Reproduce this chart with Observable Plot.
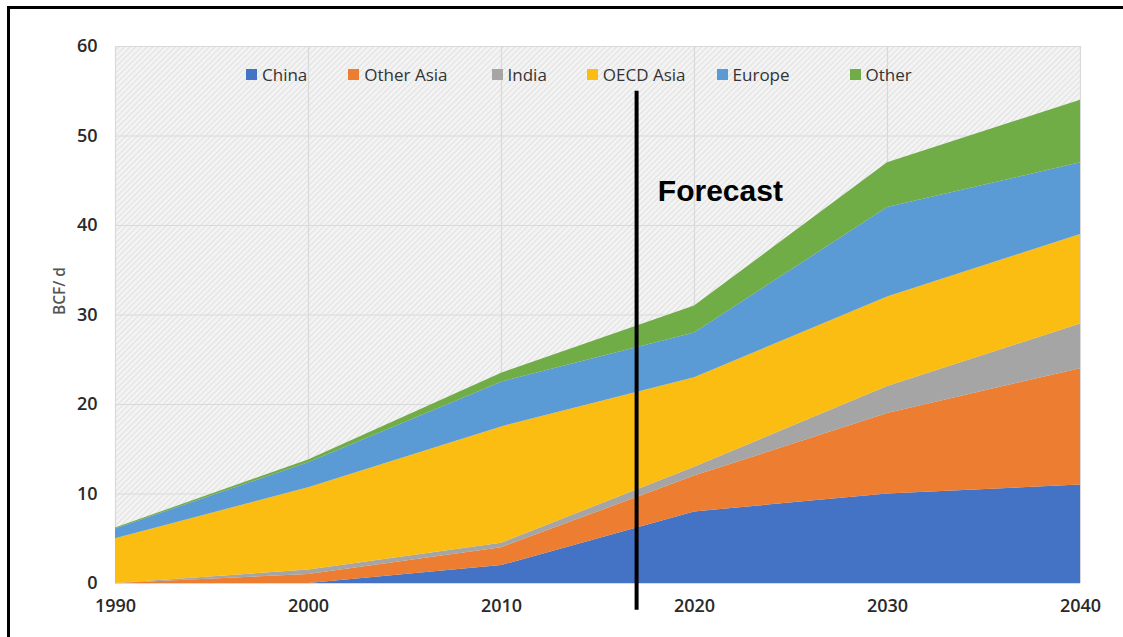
<!DOCTYPE html>
<html>
<head>
<meta charset="utf-8">
<script src="https://cdn.jsdelivr.net/npm/d3@7"></script>
<script src="https://cdn.jsdelivr.net/npm/@observablehq/plot@0.6"></script>
<style>
  html, body { margin: 0; padding: 0; background: #fff; }
  #wrap { position: relative; width: 1123px; height: 637px; overflow: hidden; font-family: "Open Sans", sans-serif; }
  #frame { position: absolute; left: 7px; top: 6px; width: 1200px; height: 700px; border-left: 3px solid #000; border-top: 3px solid #000; pointer-events: none; }
  #legend { position: absolute; top: 63px; left: 246px; display: flex; gap: 0; font-size: 17px; color: #333; }
  #legend .item { display: flex; align-items: center; white-space: nowrap; }
  #legend .sw { width: 11px; height: 11px; margin-right: 5px; }
  #chart { position: absolute; left: 0; top: 0; }
</style>
</head>
<body>
<div id="wrap">
  <div id="chart"></div>
  <div id="legend"></div>
  <div id="frame"></div>
</div>
<script>
const years = [1990, 2000, 2010, 2020, 2030, 2040];
const seriesNames = ["China", "Other Asia", "India", "OECD Asia", "Europe", "Other"];
const seriesColors = ["#4472c4", "#ed7d31", "#a5a5a5", "#fcbd12", "#5b9bd5", "#70ad47"];
const china     = [0, 0, 2, 8, 10, 11];
const otherAsia = [0, 1, 2, 4, 9, 13];
const india     = [0, 0.5, 0.5, 1, 3, 5];
const oecdAsia  = [5, 9.2, 13, 10, 10, 10];
const europe    = [1.1, 2.8, 5, 5, 10, 8];
const other     = [0.1, 0.3, 1, 3, 5, 7];
const yTicks = [0, 10, 20, 30, 40, 50, 60];
const xTicks = [1990, 2000, 2010, 2020, 2030, 2040];
const forecastYear = 2017;
const forecastSpan = [-3, 55];
const forecastLabel = { year: 2018.1, value: 43.8, text: "Forecast" };

const values = [china, otherAsia, india, oecdAsia, europe, other];
const data = [];
seriesNames.forEach((name, i) => {
  years.forEach((yr, j) => data.push({ year: yr, region: name, value: values[i][j] }));
});

const plot = Plot.plot({
  width: 1123,
  height: 637,
  marginLeft: 115,
  marginRight: 43,
  marginTop: 46,
  marginBottom: 54,
  style: { fontFamily: "Open Sans, sans-serif", fontSize: "18px", color: "#2a2a2a", background: "transparent", overflow: "visible" },
  x: { domain: [1990, 2040], ticks: xTicks, tickFormat: d => String(d), tickSize: 0, tickPadding: 16, label: null },
  y: { domain: [0, 60], ticks: yTicks, tickSize: 0, tickPadding: 18, label: null },
  color: { domain: seriesNames, range: seriesColors },
  marks: [
    Plot.frame({ fill: "url(#hatch)", stroke: null }),
    Plot.gridX(xTicks, { stroke: "#d9d9d9", strokeOpacity: 1, strokeWidth: 1.2 }),
    Plot.gridY(yTicks, { stroke: "#d9d9d9", strokeOpacity: 1, strokeWidth: 1.2 }),
    Plot.areaY(data, { x: "year", y: "value", z: "region", fill: "region", order: seriesNames }),
    Plot.axisX({ ticks: xTicks, tickFormat: d => String(d), tickSize: 0, tickPadding: 16, fontSize: 18, label: null }),
    Plot.axisY({ ticks: yTicks, tickSize: 0, tickPadding: 18, fontSize: 18, label: null }),
    Plot.text(["BCF/ d"], { frameAnchor: "left", dx: -55, rotate: -90, fontSize: 15.5, fontWeight: 600, fill: "#555" }),
    Plot.ruleX([forecastYear], { y1: forecastSpan[0], y2: forecastSpan[1], stroke: "#000", strokeWidth: 4, clip: false }),
    Plot.text([forecastLabel], { x: "year", y: "value", text: "text", textAnchor: "start", fontSize: 30, fontWeight: "bold", fontFamily: "Liberation Sans, Arial, sans-serif", fill: "#000" })
  ]
});

// hatch pattern definition for the plot background
const svg = d3.select(plot);
const defs = svg.insert("defs", ":first-child");
const pat = defs.append("pattern").attr("id", "hatch").attr("patternUnits", "userSpaceOnUse")
  .attr("width", 4).attr("height", 4).attr("patternTransform", "rotate(45)");
pat.append("rect").attr("width", 4).attr("height", 4).attr("fill", "#f3f3f3");
pat.append("line").attr("x1", 0).attr("y1", 0).attr("x2", 0).attr("y2", 4).attr("stroke", "#dcdcdc").attr("stroke-width", 1.5);
svg.selectAll("[aria-label='y-axis tick label'] text, [aria-label='x-axis tick label'] text").attr("font-weight", 600);

document.getElementById("chart").appendChild(plot);

// legend
const legend = document.getElementById("legend");
const gaps = [41, 44, 40, 31, 60, 0];
seriesNames.forEach((name, i) => {
  const item = document.createElement("div");
  item.className = "item";
  item.style.marginRight = gaps[i] + "px";
  const sw = document.createElement("div");
  sw.className = "sw";
  sw.style.background = seriesColors[i];
  const t = document.createElement("span");
  t.textContent = name;
  item.appendChild(sw);
  item.appendChild(t);
  legend.appendChild(item);
});
</script>
</body>
</html>
